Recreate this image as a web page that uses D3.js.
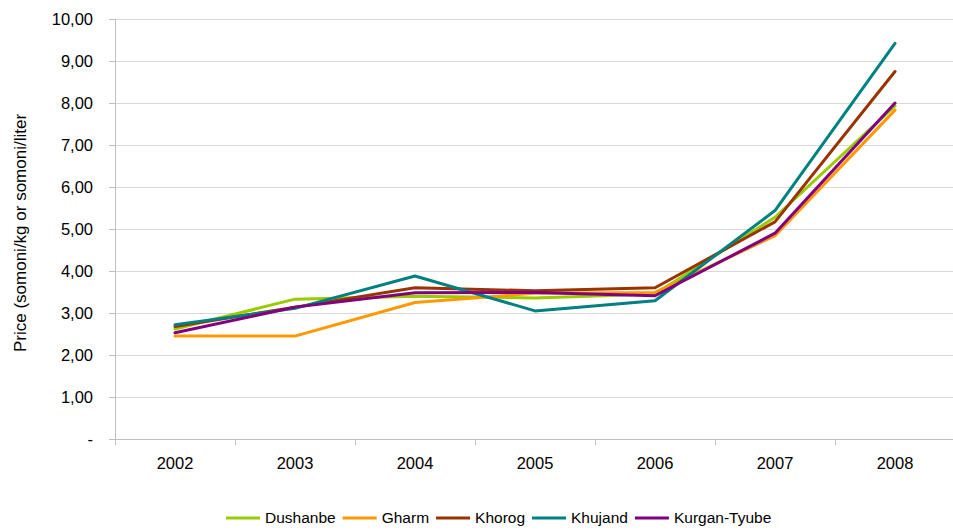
<!DOCTYPE html>
<html>
<head>
<meta charset="utf-8">
<script src="https://cdn.jsdelivr.net/npm/d3@7"></script>
<style>
  html, body { margin: 0; padding: 0; background: #fff; }
  svg { display: block; font-family: "Liberation Sans", Arial, sans-serif; }
</style>
</head>
<body>
<svg id="chart" width="953" height="531"></svg>
<script>
// Average prices by city, 2002–2008
const years = ["2002", "2003", "2004", "2005", "2006", "2007", "2008"];
const dushanbe    = [2.62, 3.33, 3.40, 3.36, 3.45, 5.28, 7.93];
const gharm       = [2.45, 2.45, 3.25, 3.47, 3.49, 4.84, 7.83];
const khorog      = [2.68, 3.14, 3.60, 3.53, 3.60, 5.17, 8.75];
const khujand     = [2.72, 3.11, 3.88, 3.05, 3.29, 5.44, 9.42];
const kurganTyube = [2.53, 3.14, 3.48, 3.49, 3.41, 4.90, 8.00];
const yTicks = [0, 1, 2, 3, 4, 5, 6, 7, 8, 9, 10];
const yTitle = "Price (somoni/kg or somoni/liter";

const series = [
  { name: "Dushanbe",     values: dushanbe,    color: "#99CC00" },
  { name: "Gharm",        values: gharm,       color: "#FF9900" },
  { name: "Khorog",       values: khorog,      color: "#993300" },
  { name: "Khujand",      values: khujand,     color: "#008080" },
  { name: "Kurgan-Tyube", values: kurganTyube, color: "#800080" }
];

const svg = d3.select("#chart");
const plotLeft = 115, plotRight = 955, plotTop = 19, plotBottom = 439;

const xBand = d3.scaleBand().domain(years).range([plotLeft, plotRight]);
const xMid = d => xBand(d) + xBand.bandwidth() / 2;
const y = d3.scaleLinear().domain([0, 10]).range([plotBottom, plotTop]);

const gridColor = "#D9D9D9";
const axisColor = "#BFBFBF";

// horizontal gridlines
svg.append("g")
  .selectAll("line")
  .data(yTicks.filter(t => t > 0))
  .join("line")
  .attr("x1", plotLeft).attr("x2", plotRight)
  .attr("y1", d => y(d)).attr("y2", d => y(d))
  .attr("stroke", gridColor).attr("stroke-width", 1)
  .attr("shape-rendering", "crispEdges");

// y axis
const fmt = v => v === 0 ? "-" : d3.format(".2f")(v).replace(".", ",");
const yAxis = svg.append("g")
  .attr("transform", `translate(${plotLeft},0)`)
  .call(d3.axisLeft(y).tickValues(yTicks).tickFormat(fmt).tickSize(6).tickPadding(16))
  .attr("shape-rendering", "crispEdges");
yAxis.select(".domain").attr("stroke", axisColor);
yAxis.selectAll(".tick line").attr("stroke", axisColor);
yAxis.selectAll("text").attr("font-size", "16.5px").attr("fill", "#000")
  .attr("font-family", "Liberation Sans, Arial, sans-serif");

// x axis labels
const xAxis = svg.append("g")
  .attr("transform", `translate(0,${plotBottom})`)
  .call(d3.axisBottom(xBand).tickSize(0).tickPadding(18));
xAxis.select(".domain").remove();
xAxis.selectAll("text").attr("font-size", "16.5px").attr("fill", "#000")
  .attr("font-family", "Liberation Sans, Arial, sans-serif");

// x axis line and category boundary ticks
const boundaries = years.map(d => xBand(d)).concat([plotRight]);
const xLine = svg.append("g").attr("shape-rendering", "crispEdges");
xLine.append("line")
  .attr("x1", plotLeft - 6).attr("x2", plotRight)
  .attr("y1", plotBottom).attr("y2", plotBottom)
  .attr("stroke", axisColor);
xLine.selectAll(".bt")
  .data(boundaries)
  .join("line")
  .attr("class", "bt")
  .attr("x1", d => d).attr("x2", d => d)
  .attr("y1", plotBottom).attr("y2", plotBottom + 6)
  .attr("stroke", axisColor);

// y axis title
svg.append("text")
  .attr("transform", `translate(26,${(plotTop + plotBottom) / 2 + 4}) rotate(-90)`)
  .attr("text-anchor", "middle")
  .attr("font-size", "17px")
  .attr("fill", "#000")
  .text(yTitle);

// series lines
const line = d3.line()
  .x((d, i) => xMid(years[i]))
  .y(d => y(d));

svg.append("g")
  .selectAll("path")
  .data(series)
  .join("path")
  .attr("d", d => line(d.values))
  .attr("fill", "none")
  .attr("stroke", d => d.color)
  .attr("stroke-width", 3)
  .attr("stroke-linejoin", "round")
  .attr("stroke-linecap", "round");

// legend
const legend = svg.append("g").attr("transform", "translate(0,518)");
let cx = 226;
series.forEach(s => {
  const g = legend.append("g");
  g.append("line")
    .attr("x1", cx).attr("x2", cx + 34)
    .attr("y1", 0).attr("y2", 0)
    .attr("stroke", s.color).attr("stroke-width", 3);
  const t = g.append("text")
    .attr("x", cx + 39).attr("y", 0).attr("dy", "0.35em")
    .attr("font-size", "15.5px").attr("fill", "#000")
    .text(s.name);
  cx += 39 + t.node().getComputedTextLength() + 7;
});
</script>
</body>
</html>
